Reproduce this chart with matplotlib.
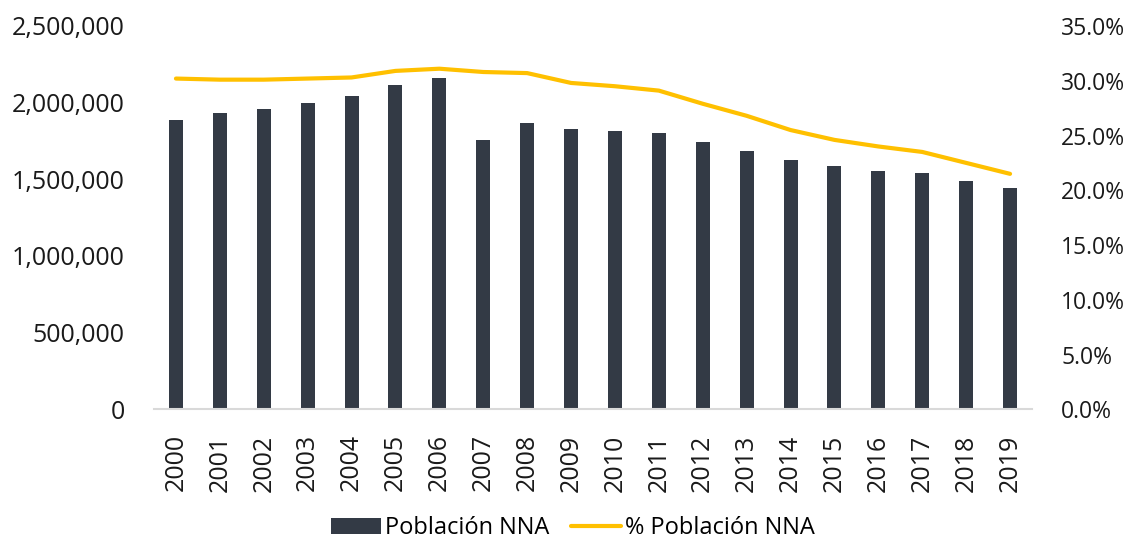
import matplotlib.pyplot as plt
from matplotlib.ticker import FuncFormatter, MultipleLocator

plt.rcParams['font.family'] = ['Open Sans', 'DejaVu Sans']

# data
years = [str(y) for y in range(2000, 2020)]
poblacion = [1888000, 1934000, 1958000, 2001000, 2045000, 2115000, 2161000,
             1758000, 1869000, 1825000, 1817000, 1801000, 1743000, 1684000,
             1627000, 1584000, 1555000, 1538000, 1492000, 1443000]
pct_poblacion = [30.2, 30.1, 30.1, 30.2, 30.3, 30.9, 31.1, 30.8, 30.7, 29.8,
                 29.5, 29.1, 27.9, 26.8, 25.5, 24.6, 24.0, 23.5, 22.5, 21.5]

bar_color = "#333a45"
line_color = "#ffc000"

fig = plt.figure(figsize=(11.35, 5.4), dpi=100)
ax1 = fig.add_axes([154 / 1135, 1 - 409.3 / 540, (1032 - 154) / 1135, (409.3 - 26) / 540])
ax2 = ax1.twinx()

x = range(len(years))
ax1.bar(x, poblacion, width=0.32, color=bar_color, label="Población NNA", zorder=2)
ax2.plot(x, pct_poblacion, color=line_color, lw=3, solid_capstyle="round",
         label="% Población NNA", zorder=3)

ax1.set_xlim(-0.5, len(years) - 0.5)
ax1.set_ylim(0, 2500000)
ax2.set_ylim(0, 35)
ax1.yaxis.set_major_locator(MultipleLocator(500000))
ax2.yaxis.set_major_locator(MultipleLocator(5))
ax1.yaxis.set_major_formatter(FuncFormatter(lambda v, p: f"{v:,.0f}"))
ax2.yaxis.set_major_formatter(FuncFormatter(lambda v, p: f"{v:.1f}%"))

ax1.set_xticks(list(x))
ax1.set_xticklabels(years, rotation=90)

for ax in (ax1, ax2):
    for side in ("top", "left", "right", "bottom"):
        ax.spines[side].set_visible(False)
    ax.tick_params(length=0, labelsize=18, colors="#1a1a1a")
ax1.spines["bottom"].set_visible(True)
ax1.spines["bottom"].set_color("#d9d9d9")
ax1.spines["bottom"].set_linewidth(1.5)
ax1.tick_params(axis="y", pad=21)
ax1.tick_params(axis="x", pad=18)
ax2.tick_params(axis="y", pad=21, labelsize=16.5)

h1, l1 = ax1.get_legend_handles_labels()
h2, l2 = ax2.get_legend_handles_labels()
fig.legend(h1 + h2, l1 + l2, loc="lower center", bbox_to_anchor=(0.505, -0.04),
           ncol=2, frameon=False, fontsize=17, handlelength=2.1,
           handletextpad=0.2, columnspacing=0.9)

plt.savefig("out.png", dpi=100)
